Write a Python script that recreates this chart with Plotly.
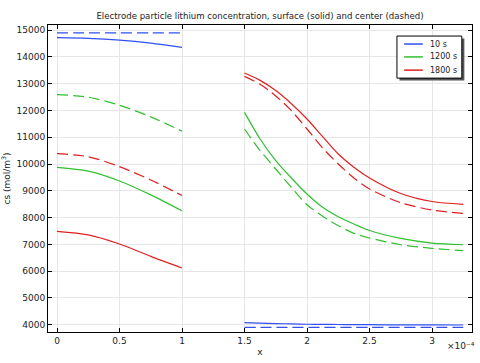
import plotly.graph_objects as go

# x in units of 1e-4 m
x_neg = [0.0, 0.25, 0.5, 0.75, 1.0]
x_pos = [1.5, 1.625, 1.75, 1.875, 2.0, 2.125, 2.25, 2.375, 2.5, 2.75, 3.0, 3.25]

# negative electrode (surface = solid, center = dashed)
neg_10_surf = [14713, 14690, 14625, 14512, 14354]
neg_10_cent = [14890, 14890, 14890, 14890, 14890]
neg_1200_surf = [9876, 9735, 9368, 8848, 8253]
neg_1200_cent = [12590, 12495, 12193, 11760, 11227]
neg_1800_surf = [7485, 7355, 7014, 6555, 6121]
neg_1800_cent = [10384, 10273, 9901, 9405, 8823]

# positive electrode
pos_10_surf = [4080, 4062, 4045, 4032, 4020, 4014, 4010, 4006, 4003, 3998, 3995, 3993]
pos_10_cent = [3900] * 12
pos_1200_surf = [11928, 10933, 10124, 9478, 8880, 8383, 8030, 7760, 7520, 7224, 7050, 6987]
pos_1200_cent = [11306, 10498, 9813, 9129, 8480, 8050, 7699, 7413, 7240, 6987, 6853, 6765]
pos_1800_surf = [13396, 13120, 12740, 12250, 11679, 11020, 10373, 9880, 9480, 8900, 8600, 8496]
pos_1800_cent = [13271, 12975, 12540, 11990, 11306, 10597, 10000, 9478, 9070, 8555, 8284, 8160]

labels = ["10 s", "1200 s", "1800 s"]
colors = ["#3050F0", "#30C030", "#E02020"]

series = [
    (neg_10_surf, neg_10_cent, pos_10_surf, pos_10_cent),
    (neg_1200_surf, neg_1200_cent, pos_1200_surf, pos_1200_cent),
    (neg_1800_surf, neg_1800_cent, pos_1800_surf, pos_1800_cent),
]

fig = go.Figure()
for lab, col, (ns, nc, ps, pc) in zip(labels, colors, series):
    for xs, ys, dash in ((x_neg, ns, "solid"), (x_neg, nc, "11px,5px"),
                         (x_pos, ps, "solid"), (x_pos, pc, "11px,5px")):
        fig.add_trace(go.Scatter(x=xs, y=ys, mode="lines", name=lab,
                                 line=dict(color=col, width=1.2, shape="spline",
                                           smoothing=0.8, dash=dash),
                                 showlegend=False))

font_main = dict(family="DejaVu Sans", size=9, color="#222")

axis_common = dict(
    showline=True, linecolor="black", linewidth=1, mirror="ticks",
    ticks="inside", ticklen=4, tickcolor="black",
    showgrid=True, gridcolor="#e6e6e6", gridwidth=1, zeroline=False,
    tickfont=font_main, automargin=False,
)

fig.update_layout(
    width=480, height=363,
    margin=dict(l=48, r=8, t=25, b=31),
    paper_bgcolor="white", plot_bgcolor="white",
    title=dict(text="Electrode particle lithium concentration, surface (solid) and center (dashed)",
               xref="paper", x=0.5, xanchor="center", y=0.965, yanchor="top",
               font=dict(family="DejaVu Sans", size=8.6, color="#222")),
    xaxis=dict(range=[-0.072, 3.32], tickvals=[0, 0.5, 1, 1.5, 2, 2.5, 3],
               ticktext=["0", "0.5", "1", "1.5", "2", "2.5", "3"],
               title=dict(text="x", font=font_main, standoff=3),
               **axis_common),
    yaxis=dict(range=[3731, 15187], tickvals=list(range(4000, 15001, 1000)),
               tickformat="d",
               title=dict(text="cs (mol/m<sup>3</sup>)", font=font_main, standoff=8),
               **axis_common),
    showlegend=False,
)

# legend box (drawn as shapes + text in paper coordinates)
lx0, lx1, ly0, ly1 = 0.823, 0.976, 0.827, 0.964
fig.add_shape(type="rect", xref="paper", yref="paper",
              x0=lx0 + 0.006, x1=lx1 + 0.006, y0=ly0 - 0.008, y1=ly1 - 0.008,
              line=dict(width=0), fillcolor="#555555", layer="above")
fig.add_shape(type="rect", xref="paper", yref="paper",
              x0=lx0, x1=lx1, y0=ly0, y1=ly1,
              line=dict(color="black", width=1), fillcolor="white", layer="above")
entry_y = [0.938, 0.896, 0.853]
for lab, col, ey in zip(labels, colors, entry_y):
    fig.add_shape(type="line", xref="paper", yref="paper",
                  x0=0.840, x1=0.884, y0=ey, y1=ey,
                  line=dict(color=col, width=1.5), layer="above")
    fig.add_annotation(text=lab, xref="paper", yref="paper", x=0.897, y=ey,
                       xanchor="left", yanchor="middle", showarrow=False,
                       font=dict(family="DejaVu Sans", size=8, color="#222"))

fig.add_annotation(text="×10⁻⁴", xref="paper", yref="paper",
                   x=1.012, y=-0.022, xanchor="right", yanchor="top", showarrow=False,
                   font=font_main)

fig.write_html("out.html",
               config={"displayModeBar": False},
               post_script="document.body.style.margin='0';document.body.style.overflow='hidden';")
